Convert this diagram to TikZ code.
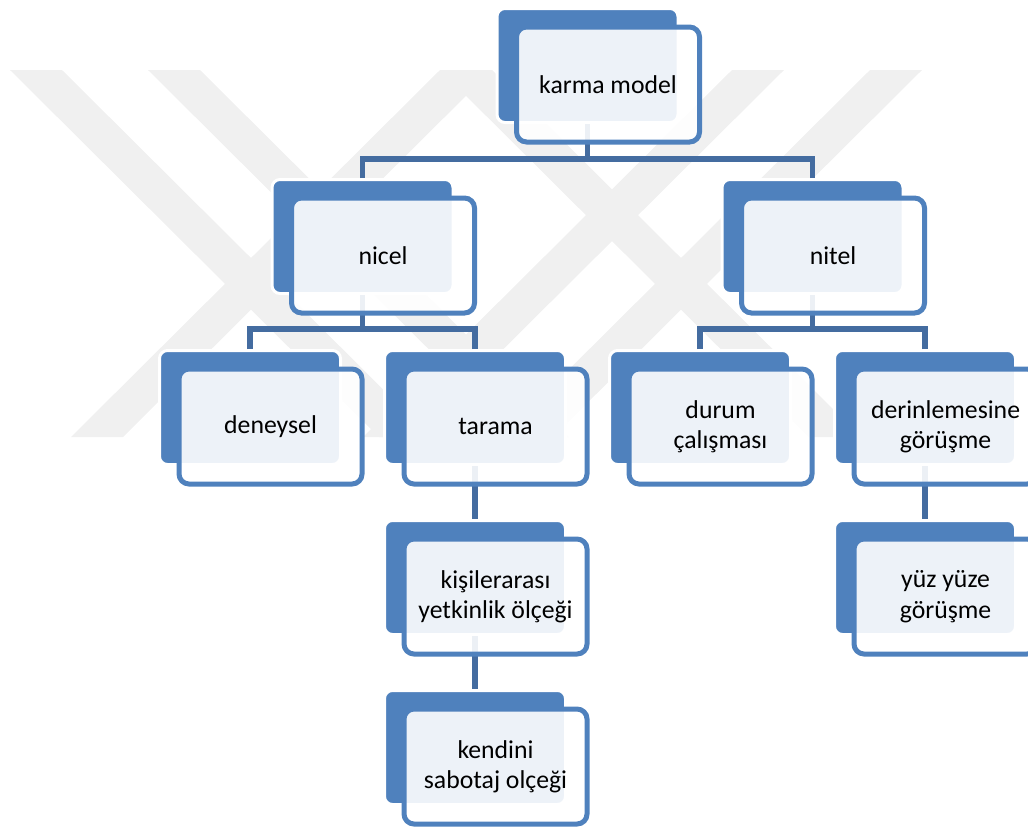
\documentclass[tikz,border=0pt]{standalone}
\usepackage{fontspec}
\setmainfont{Carlito}
\usetikzlibrary{positioning}
\definecolor{boxblue}{RGB}{79,129,189}
\definecolor{linkblue}{RGB}{68,108,160}
\definecolor{wmgray}{RGB}{240,240,240}
\tikzset{back/.style={draw=white, line width=2.25pt, fill=boxblue, rounded corners=6pt, minimum width=135.75pt, minimum height=85.5pt, inner sep=0pt}}
\tikzset{front/.style={draw=boxblue, line width=3.75pt, fill=white, fill opacity=0.9, text opacity=1, rounded corners=7.5pt, minimum width=137.25pt, minimum height=86.25pt, inner sep=0pt, align=center, font=\fontsize{19.3}{22.8}\selectfont}}
\tikzset{link/.style={draw=linkblue, line width=3.9pt}}
\tikzset{wm/.style={fill=wmgray}}

\begin{document}
\begin{tikzpicture}[x=0.75pt, y=-0.75pt]
\clip (0,0) rectangle (1028,826);
% watermark behind the chart
\foreach \t/\b in {10/379, 148/517, 440/71, 440/809, 732/363, 870/501}
  \fill[wm] (\t,70) -- (\t+52,70) -- (\b+52,437) -- (\b,437) -- cycle;

\begin{scope}[on grid]
\node[back] (kmB) at (587.5,65.5) {};
\node[back] (nicelB) at (362.5,236.5) {};
\node[back] (nitelB) at (812.5,236.5) {};
\node[back] (deneyB) at (250,407.5) {};
\node[back] (taramaB) at (475,407.5) {};
\node[back] (durumB) at (700,407.5) {};
\node[back] (derinB) at (925,407.5) {};
\node[back] (kisiB) at (475,577.5) {};
\node[back] (kendiB) at (475,747.5) {};
\node[back] (yuzB) at (925,577.5) {};

\draw[link] (nicelB.north) -- ++(0,-19) -| (kmB.south);
\draw[link] (nitelB.north) -- ++(0,-19) -| (kmB.south);
\draw[link] (deneyB.north) -- ++(0,-20) -| (nicelB.south);
\draw[link] (taramaB.north) -- ++(0,-20) -| (nicelB.south);
\draw[link] (durumB.north) -- ++(0,-20) -| (nitelB.south);
\draw[link] (derinB.north) -- ++(0,-20) -| (nitelB.south);
\draw[link] (taramaB.south) -- (kisiB.north);
\draw[link] (kisiB.south) -- (kendiB.north);
\draw[link] (derinB.south) -- (yuzB.north);

\node[front, below right=14.25pt and 15.4pt of kmB] (km) {karma model};
\node[front, below right=14.25pt and 15.4pt of nicelB] (nicel) {nicel};
\node[front, below right=14.25pt and 15.4pt of nitelB] (nitel) {nitel};
\node[front, below right=14.25pt and 15.4pt of deneyB] (deney) {deneysel};
\node[front, below right=14.25pt and 15.4pt of taramaB] (tarama) {tarama};
\node[front, below right=14.25pt and 15.4pt of durumB] (durum) {durum\\çalışması};
\node[front, below right=14.25pt and 15.4pt of derinB] (derin) {derinlemesine\\görüşme};
\node[front, below right=14.25pt and 15.4pt of kisiB] (kisi) {kişilerarası\\yetkinlik ölçeği};
\node[front, below right=14.25pt and 15.4pt of kendiB] (kendi) {kendini\\sabotaj olçeği};
\node[front, below right=14.25pt and 15.4pt of yuzB] (yuz) {yüz yüze\\görüşme};
\end{scope}
\end{tikzpicture}
\end{document}
